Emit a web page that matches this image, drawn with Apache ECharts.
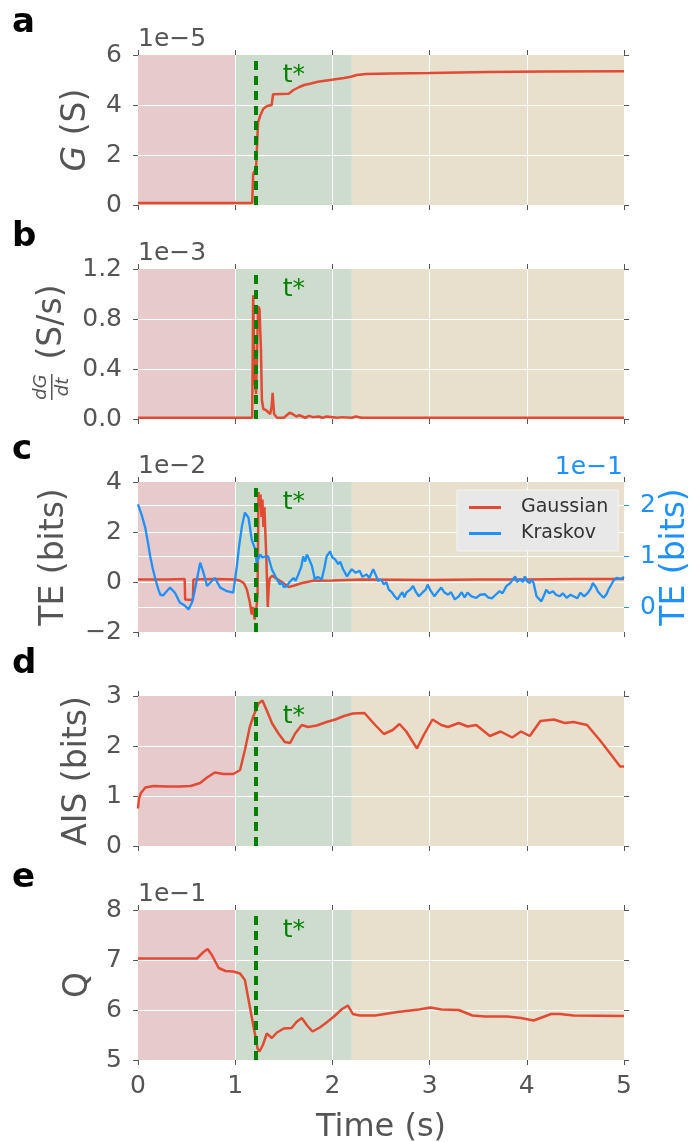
<!DOCTYPE html>
<html>
<head>
<meta charset="utf-8">
<title>G, dG/dt, TE, AIS, Q</title>
<script src="https://cdn.jsdelivr.net/npm/echarts@6/dist/echarts.min.js"></script>
<style>
  html, body { margin: 0; padding: 0; background: #fff; }
  #chart { width: 692px; height: 1142px; }
</style>
</head>
<body>
<div id="chart"></div>
<script>
// ---- data ----
const xTicks = [0, 1, 2, 3, 4, 5]
const tStar = 1.205
const phaseBounds = [[0, 1], [1, 2.2], [2.2, 5]]

// a: conductance G (x1e-5 S)
const gTime = [0, 0.5, 1.0, 1.175, 1.185, 1.205, 1.215, 1.235, 1.26, 1.29, 1.33, 1.375, 1.39, 1.55, 1.6, 1.66, 1.71, 1.78, 1.85, 1.94, 2.03, 2.12, 2.19, 2.25, 2.35, 2.6, 3.0, 3.6, 4.2, 5.0]
const gValues = [0.08, 0.08, 0.08, 0.08, 1.25, 1.4, 1.5, 3.3, 3.6, 3.85, 3.96, 4.0, 4.43, 4.45, 4.6, 4.72, 4.8, 4.86, 4.93, 4.98, 5.03, 5.08, 5.13, 5.2, 5.24, 5.26, 5.28, 5.32, 5.34, 5.35]

// b: dG/dt (x1e-3 S/s)
const dgTime = [0, 1.0, 1.175, 1.185, 1.2, 1.215, 1.235, 1.25, 1.265, 1.275, 1.29, 1.32, 1.36, 1.375, 1.385, 1.4, 1.43, 1.5, 1.56, 1.59, 1.63, 1.66, 1.72, 1.76, 1.8, 1.86, 1.9, 1.94, 2.05, 2.1, 2.2, 2.24, 2.3, 3.0, 5.0]
const dgValues = [0.01, 0.01, 0.01, 0.99, 0.3, 0.2, 0.9, 0.88, 0.55, 0.15, 0.08, 0.07, 0.04, 0.1, 0.21, 0.04, 0.01, 0.01, 0.05, 0.04, 0.02, 0.03, 0.01, 0.025, 0.015, 0.02, 0.01, 0.02, 0.01, 0.015, 0.01, 0.02, 0.01, 0.01, 0.01]

// c: transfer entropy, Gaussian (x1e-2 bits, left axis)
const gaussTime = [0, 0.3, 0.48, 0.485, 0.565, 0.57, 0.8, 1.0, 1.05, 1.09, 1.12, 1.15, 1.17, 1.185, 1.2, 1.215, 1.23, 1.24, 1.25, 1.26, 1.27, 1.28, 1.29, 1.3, 1.31, 1.32, 1.335, 1.345, 1.355, 1.38, 1.42, 1.48, 1.55, 1.6, 1.68, 1.8, 2.0, 2.3, 3.0, 3.5, 4.0, 4.5, 5.0]
const gaussValues = [0.1, 0.1, 0.12, -0.7, -0.72, 0.1, 0.12, 0.1, 0.05, -0.05, -0.3, -0.8, -1.3, -1.0, -1.5, -1.2, -0.5, 3.6, 3.0, 3.5, 2.6, 3.3, 2.2, 3.0, 2.0, 1.0, -1.0, -0.2, 0.15, 0.25, 0.15, 0.0, -0.2, -0.15, -0.05, 0.05, 0.06, 0.1, 0.08, 0.1, 0.1, 0.12, 0.12]

// c: transfer entropy, Kraskov (x1e-1 bits, right axis)
const krasTime = [0, 0.04, 0.075, 0.1, 0.126, 0.15, 0.18, 0.21, 0.23, 0.26, 0.3, 0.33, 0.38, 0.43, 0.48, 0.52, 0.555, 0.58, 0.606, 0.64, 0.674, 0.71, 0.76, 0.79, 0.846, 0.915, 0.98, 1.017, 1.04, 1.07, 1.1, 1.137, 1.17, 1.206, 1.22, 1.257, 1.28, 1.31, 1.34, 1.377,
  1.43, 1.46, 1.48, 1.5, 1.53, 1.56, 1.6, 1.62, 1.65, 1.68, 1.7, 1.72, 1.737, 1.76, 1.79, 1.82, 1.85, 1.89, 1.92, 1.94, 1.976, 2.0, 2.03, 2.06, 2.08, 2.11, 2.15, 2.18,
  2.2, 2.24, 2.28, 2.31, 2.35, 2.38, 2.42, 2.45, 2.47, 2.5, 2.53, 2.555, 2.58, 2.61, 2.64, 2.67, 2.7, 2.72, 2.74, 2.76, 2.8, 2.83, 2.86, 2.89, 2.93, 2.96, 2.98,
  3.01, 3.05, 3.08, 3.12, 3.15, 3.19, 3.22, 3.26, 3.3, 3.33, 3.36, 3.39, 3.43, 3.48, 3.52, 3.57, 3.6, 3.64, 3.68, 3.72, 3.75, 3.79, 3.83, 3.88, 3.9, 3.93, 3.96, 3.98,
  4.0, 4.03, 4.05, 4.07, 4.1, 4.15, 4.18, 4.2, 4.23, 4.27, 4.3, 4.34, 4.37, 4.41, 4.45, 4.48, 4.52, 4.55, 4.59, 4.63, 4.66, 4.68, 4.71, 4.73, 4.76, 4.79, 4.82, 4.84, 4.87, 4.89, 4.92, 4.94, 4.97, 5.0]
const krasValues = [2.02, 1.8, 1.56, 1.3, 1.0, 0.78, 0.55, 0.35, 0.25, 0.24, 0.33, 0.39, 0.29, 0.1, 0.04, -0.04, 0.1, 0.3, 0.55, 0.88, 0.68, 0.42, 0.52, 0.58, 0.39, 0.32, 0.29, 0.81, 1.2, 1.6, 1.86, 1.76, 1.33, 1.14, 0.88, 1.04, 0.98, 1.0, 1.0, 0.75,
  0.55, 0.45, 0.49, 0.4, 0.42, 0.5, 0.58, 0.52, 0.65, 0.8, 1.0, 0.9, 1.04, 0.95, 0.81, 0.55, 0.6, 0.55, 0.8, 1.0, 1.1, 0.98, 0.94, 0.85, 0.9, 0.75, 0.61, 0.7,
  0.75, 0.68, 0.72, 0.6, 0.65, 0.58, 0.75, 0.62, 0.52, 0.55, 0.45, 0.5, 0.35, 0.3, 0.22, 0.16, 0.25, 0.3, 0.2, 0.29, 0.35, 0.42, 0.3, 0.22, 0.3, 0.35, 0.45,
  0.33, 0.22, 0.3, 0.39, 0.3, 0.25, 0.3, 0.16, 0.22, 0.3, 0.2, 0.29, 0.22, 0.19, 0.25, 0.26, 0.2, 0.18, 0.25, 0.32, 0.28, 0.42, 0.48, 0.61, 0.5, 0.55, 0.5, 0.61,
  0.52, 0.48, 0.55, 0.48, 0.22, 0.12, 0.25, 0.35, 0.28, 0.32, 0.25, 0.22, 0.28, 0.19, 0.25, 0.22, 0.18, 0.29, 0.22, 0.29, 0.38, 0.48, 0.4, 0.32, 0.25, 0.19, 0.26, 0.35, 0.45, 0.52, 0.58, 0.61, 0.56, 0.6]
const krasTicks = [0, 1, 2]

// d: active information storage (bits)
const aisTime = [0, 0.01, 0.03, 0.075, 0.16, 0.3, 0.43, 0.54, 0.64, 0.71, 0.79, 0.88, 0.98, 1.05, 1.1, 1.15, 1.19, 1.24, 1.28, 1.325, 1.38, 1.445, 1.51, 1.565, 1.617, 1.685, 1.75, 1.84, 1.94, 2.03, 2.12, 2.21, 2.33, 2.44, 2.53, 2.62, 2.69, 2.76, 2.87, 2.94, 3.03, 3.12, 3.19, 3.3, 3.39, 3.48, 3.62, 3.73, 3.85, 3.94, 4.03, 4.14, 4.28, 4.39, 4.48, 4.62, 4.75, 4.87, 4.96, 5.0]
const aisValues = [0.75, 0.95, 1.06, 1.17, 1.2, 1.19, 1.19, 1.2, 1.26, 1.37, 1.47, 1.44, 1.44, 1.52, 1.92, 2.38, 2.61, 2.85, 2.91, 2.71, 2.45, 2.25, 2.08, 2.06, 2.25, 2.42, 2.38, 2.41, 2.48, 2.53, 2.6, 2.65, 2.66, 2.42, 2.24, 2.32, 2.44, 2.29, 1.95, 2.22, 2.53, 2.42, 2.38, 2.46, 2.39, 2.42, 2.2, 2.29, 2.17, 2.29, 2.2, 2.5, 2.53, 2.46, 2.48, 2.42, 2.12, 1.82, 1.59, 1.59]

// e: modularity Q (x1e-1)
const qTime = [0, 0.3, 0.606, 0.674, 0.716, 0.76, 0.83, 0.9, 0.98, 1.05, 1.1, 1.13, 1.17, 1.206, 1.23, 1.25, 1.285, 1.325, 1.377, 1.43, 1.5, 1.58, 1.63, 1.685, 1.74, 1.795, 1.87, 1.94, 2.01, 2.1, 2.16, 2.21, 2.28, 2.44, 2.67, 2.89, 3.01, 3.12, 3.3, 3.44, 3.57, 3.8, 3.94, 4.07, 4.25, 4.34, 4.48, 5.0]
const qValues = [7.03, 7.03, 7.03, 7.16, 7.22, 7.1, 6.84, 6.78, 6.77, 6.73, 6.6, 6.28, 5.86, 5.49, 5.23, 5.17, 5.3, 5.53, 5.44, 5.55, 5.63, 5.64, 5.76, 5.84, 5.69, 5.57, 5.65, 5.75, 5.86, 6.02, 6.09, 5.92, 5.89, 5.89, 5.96, 6.01, 6.05, 6.01, 6.0, 5.89, 5.87, 5.87, 5.84, 5.79, 5.92, 5.92, 5.89, 5.88]

// ---- styles ----
const FONT = 'DejaVu Sans'
const GREY = '#555555'
const RED = '#e24a33'
const BLUE = '#1e90ff'
const GREEN = '#008000'
const phaseColors = ['#e6cacc', '#cddccd', '#e8dfcd']

const panels = [
  { top: 55, min: 0, max: 6, interval: 2, exp: '1e\u22125', letter: 'a', time: gTime, values: gValues },
  { top: 269, min: 0, max: 1.2, interval: 0.4, exp: '1e\u22123', letter: 'b', digits: 1, time: dgTime, values: dgValues },
  { top: 482, min: -2, max: 4, interval: 2, exp: '1e\u22122', letter: 'c', time: gaussTime, values: gaussValues, name: 'Gaussian' },
  { top: 696, min: 0, max: 3, interval: 1, exp: '', letter: 'd', time: aisTime, values: aisValues },
  { top: 910, min: 5, max: 8, interval: 1, exp: '1e\u22121', letter: 'e', time: qTime, values: qValues }
]
const LEFT = 138
const WIDTH = 486
const HEIGHT = 150

function pairs(xs, ys) {
  return xs.map((x, i) => [x, ys[i]])
}

function fmt(v, digits) {
  const s = digits ? Math.abs(v).toFixed(digits) : String(Math.abs(v))
  return v < 0 ? '\u2212' + s : s
}

const grid = []
const xAxis = []
const yAxis = []
const series = []
const graphic = []
// no visible spines; onZero off so every axis stays on its own edge
const noLine = { show: false, onZero: false }

panels.forEach((p, i) => {
  grid.push({ left: LEFT, top: p.top, width: WIDTH, height: HEIGHT, outerBoundsMode: 'none' })

  const tick = { show: true, length: 5, lineStyle: { color: GREY, width: 1 } }
  // bottom x axis
  xAxis.push({
    type: 'value', gridIndex: i, position: 'bottom',
    min: xTicks[0], max: xTicks[xTicks.length - 1], interval: 1,
    axisLine: noLine,
    axisTick: tick,
    axisLabel: { show: i === 4, margin: 14, fontSize: 25, color: GREY, fontFamily: FONT },
    splitLine: { show: true, showMinLine: false, showMaxLine: false, lineStyle: { color: '#ffffff', width: 1 } },
    name: i === 4 ? 'Time (s)' : '',
    nameLocation: 'middle', nameGap: 52,
    nameTextStyle: { fontSize: 32, color: GREY, fontFamily: FONT }
  })
  // top x axis (ticks only)
  xAxis.push({
    type: 'value', gridIndex: i, position: 'top',
    min: xTicks[0], max: xTicks[xTicks.length - 1], interval: 1,
    axisLine: noLine, axisTick: tick,
    axisLabel: { show: false }, splitLine: { show: false }
  })
  // left y axis
  yAxis.push({
    type: 'value', gridIndex: i, position: 'left',
    min: p.min, max: p.max, interval: p.interval,
    axisLine: noLine,
    axisTick: tick,
    axisLabel: { margin: 16, fontSize: 25, color: GREY, fontFamily: FONT, formatter: v => fmt(v, p.digits) },
    splitLine: { show: true, showMinLine: false, showMaxLine: false, lineStyle: { color: '#ffffff', width: 1 } },
    name: p.exp, nameLocation: 'end', nameGap: 3,
    nameTextStyle: { align: 'left', fontSize: 25, color: GREY, fontFamily: FONT }
  })
  // right y axis
  if (i === 2) {
    yAxis.push({
      type: 'value', gridIndex: i, position: 'right',
      min: -0.48, max: 2.46,
      axisLine: noLine,
      axisTick: { show: true, length: 5, lineStyle: { color: BLUE }, customValues: krasTicks },
      axisLabel: { margin: 16, fontSize: 25, color: BLUE, fontFamily: FONT, customValues: krasTicks },
      splitLine: { show: false }
    })
  } else {
    yAxis.push({
      type: 'value', gridIndex: i, position: 'right',
      min: p.min, max: p.max, interval: p.interval,
      axisLine: noLine, axisTick: tick,
      axisLabel: { show: false }, splitLine: { show: false }
    })
  }

  // coloured phases behind the grid lines
  series.push({
    type: 'line', xAxisIndex: i * 2, yAxisIndex: i * 2, data: [], z: -1, silent: true,
    markArea: {
      silent: true, z: -1,
      data: phaseBounds.map((b, k) => [
        { xAxis: b[0], itemStyle: { color: phaseColors[k], opacity: 1 } },
        { xAxis: b[1] }
      ])
    }
  })

  // the measured curve
  series.push({
    type: 'line', name: p.name || ('s' + i), xAxisIndex: i * 2, yAxisIndex: i * 2,
    data: pairs(p.time, p.values), showSymbol: false, symbol: 'none',
    lineStyle: { color: RED, width: 2.5 }, itemStyle: { color: RED }, z: 2
  })

  // t* marker
  series.push({
    type: 'line', xAxisIndex: i * 2, yAxisIndex: i * 2, data: [], z: 5, silent: true,
    markLine: {
      silent: true, z: 5, symbol: ['none', 'none'], label: { show: false },
      lineStyle: { color: GREEN, width: 4, type: [9, 6] },
      data: [{ xAxis: tStar }]
    },
    markPoint: {
      silent: true, symbol: 'rect', symbolSize: 1, itemStyle: { color: 'rgba(0,0,0,0)' },
      label: { show: true, formatter: 't*', position: [0, 8], color: GREEN, fontSize: 25, fontFamily: FONT },
      data: [{ coord: [1.495, p.max] }]
    }
  })

  graphic.push({
    type: 'text', left: 12, top: p.top - 49,
    style: { text: p.letter, fontSize: 34, fontWeight: 'bold', fontFamily: FONT, fill: '#000' }
  })
})

// Kraskov on the right axis of panel c
series.push({
  type: 'line', name: 'Kraskov', xAxisIndex: 4, yAxisIndex: 5,
  data: pairs(krasTime, krasValues), showSymbol: false, symbol: 'none',
  lineStyle: { color: BLUE, width: 2.3 }, itemStyle: { color: BLUE }, z: 3
})
// right axis grid lines
series.push({
  type: 'line', xAxisIndex: 4, yAxisIndex: 5, data: [], z: -1, silent: true,
  markLine: {
    silent: true, z: 0, symbol: ['none', 'none'], label: { show: false },
    lineStyle: { color: '#ffffff', width: 1, type: 'solid' },
    data: krasTicks.map(v => ({ yAxis: v }))
  }
})

// right axis offset text
graphic.push({
  type: 'text', x: 623, y: panels[2].top - 2,
  style: { text: '1e\u22121', fontSize: 25, fontFamily: FONT, fill: BLUE, align: 'right', verticalAlign: 'bottom' }
})

// y axis titles (rotated)
const titleStyle = { fontSize: 33, fontFamily: FONT, fill: GREY, align: 'center', verticalAlign: 'middle' }
function mid(i) { return panels[i].top + HEIGHT / 2 }
graphic.push(
  { type: 'text', x: 76, y: mid(0), rotation: Math.PI / 2,
    style: Object.assign({}, titleStyle, { text: '{i|G} (S)', rich: { i: { fontStyle: 'italic', fontSize: 33, fontFamily: FONT, fill: GREY } } }) },
  { type: 'group', x: 52, y: mid(1), rotation: Math.PI / 2, children: [
    { type: 'text', x: 22, y: 0, style: Object.assign({}, titleStyle, { text: '(S/s)' }) },
    { type: 'text', x: -43, y: -11, style: Object.assign({}, titleStyle, { text: 'dG', fontSize: 18, fontStyle: 'italic' }) },
    { type: 'rect', shape: { x: -56, y: -1, width: 26, height: 1.5 }, style: { fill: GREY } },
    { type: 'text', x: -43, y: 11, style: Object.assign({}, titleStyle, { text: 'dt', fontSize: 18, fontStyle: 'italic' }) }
  ] },
  { type: 'text', x: 54, y: mid(2), rotation: Math.PI / 2, style: Object.assign({}, titleStyle, { text: 'TE (bits)' }) },
  { type: 'text', x: 675, y: mid(2), rotation: Math.PI / 2, style: Object.assign({}, titleStyle, { text: 'TE (bits)', fill: BLUE }) },
  { type: 'text', x: 77, y: mid(3), rotation: Math.PI / 2, style: Object.assign({}, titleStyle, { text: 'AIS (bits)' }) },
  { type: 'text', x: 78, y: mid(4), rotation: Math.PI / 2, style: Object.assign({}, titleStyle, { text: 'Q' }) }
)

const chart = echarts.init(document.getElementById('chart'), null, { renderer: 'canvas' })
chart.setOption({
  animation: false,
  backgroundColor: '#ffffff',
  textStyle: { fontFamily: FONT },
  grid: grid,
  xAxis: xAxis,
  yAxis: yAxis,
  legend: {
    data: ['Gaussian', 'Kraskov'],
    orient: 'vertical', left: 457, top: 490,
    padding: [8, 10, 8, 12], itemGap: 7,
    itemWidth: 32, itemHeight: 3, icon: 'rect',
    backgroundColor: '#e8e8e8', borderColor: '#f4f4f4', borderWidth: 1,
    textStyle: { fontSize: 19, color: '#333', fontFamily: FONT, padding: [0, 0, 0, 15] }
  },
  graphic: graphic,
  series: series
})
</script>
</body>
</html>
